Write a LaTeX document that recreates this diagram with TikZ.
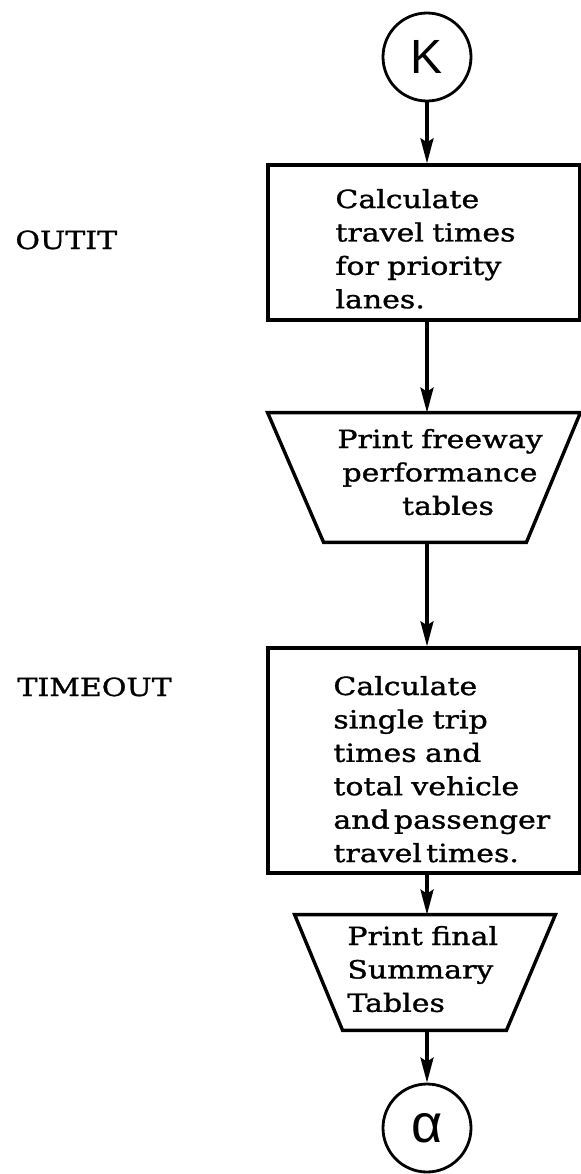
\documentclass[tikz,border=0pt]{standalone}
\usepackage{fontspec}
\setmainfont{DejaVu Serif}[FakeStretch=1.2,FakeBold=1.2]
\newfontfamily\circfont{Liberation Sans}
\usetikzlibrary{arrows.meta}
\begin{document}
\begin{tikzpicture}[x=0.5pt,y=-0.5pt,
  outline/.style={draw, line width=1.7pt, line join=miter},
  procbox/.style={outline, minimum width=156pt, inner sep=0},
  shapebox/.style={minimum width=#1, inner sep=0},
  connector/.style={circle, draw, line width=1.4pt, minimum size=44pt, inner sep=0,
    font=\circfont\fontsize{24pt}{24pt}\selectfont},
  arr/.style={line width=1.7pt, -{Stealth[length=12.5pt,width=6.5pt,inset=2pt]}},
  txt/.style={inner sep=0, text width=130pt, align=left,
    font=\fontsize{12.5pt}{16.7pt}\selectfont},
  lbl/.style={inner sep=0, font=\fontsize{12.5pt}{16.7pt}\selectfont}
]
\useasboundingbox (0,0) rectangle (581,1174);

% connectors (circles)
\node[connector] (K) at (427,57) {K};
\node[connector, font=\circfont\fontsize{27pt}{27pt}\selectfont] (alpha) at (427,1128) {α};

% process boxes
\node[procbox, minimum height=77.5pt] (b1) at (424,242.5) {};
\node[procbox, minimum height=112.5pt] (b2) at (424,760.5) {};

% trapezoids (print)
\node[shapebox=156pt, minimum height=64.5pt] (t1) at (424,477.5) {};
\draw[outline] (t1.north west) -- (t1.north east) -- ([xshift=-27pt]t1.south east)
  -- ([xshift=28pt]t1.south west) -- cycle;
\node[shapebox=130pt, minimum height=57.5pt] (t2) at (425,972.5) {};
\draw[outline] (t2.north west) -- (t2.north east) -- ([xshift=-24.5pt]t2.south east)
  -- ([xshift=24pt]t2.south west) -- cycle;

% texts
\node[txt, anchor=base west] (b1t) at (335,208) {Calculate\\travel times\\for priority\\lanes.};
\node[txt, anchor=base, align=center, text width=120pt] (t1t) at (440,448) {Print freeway\\performance\\\hspace*{8pt}tables};
\node[txt, anchor=base west] (b2t) at (333,695) {Calculate\\single trip\\times and\\total vehicle\\and\,passenger\\travel\,times.};
\node[txt, anchor=base west] (t2t) at (347,945) {Print final\\Summary\\Tables};

\node[lbl, anchor=base west] (outit) at (15,249) {OUTIT};
\node[lbl, anchor=base west] (timeout) at (17,696) {TIMEOUT};

% arrows
\draw[arr] (K.south) -- (K.south |- b1.north);
\draw[arr] (b1.south -| K.center) -- (t1.north -| K.center);
\draw[arr] (t1.south -| K.center) -- (b2.north -| K.center);
\draw[arr] (b2.south -| K.center) -- (t2.north -| K.center);
\draw[arr] (t2.south -| K.center) -- (alpha.north);
\end{tikzpicture}
\end{document}
